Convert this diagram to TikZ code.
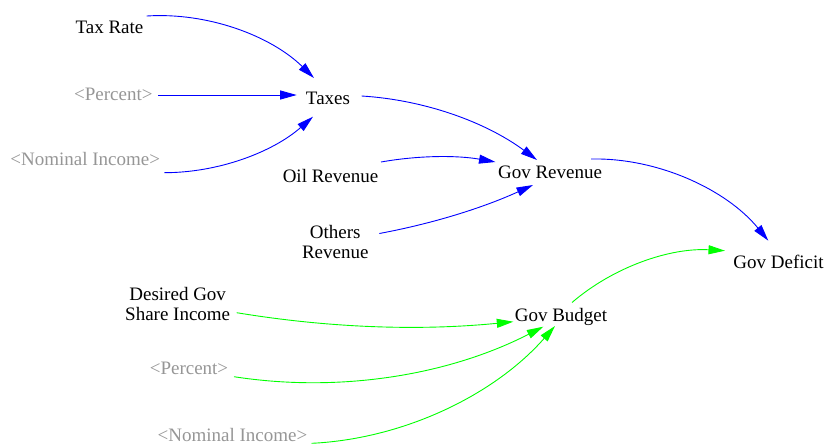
\documentclass[tikz,border=0pt]{standalone}
\usepackage{fontspec}
\setmainfont{Liberation Serif}
\usetikzlibrary{arrows.meta}
\definecolor{linkblue}{RGB}{0,0,255}
\definecolor{linkgreen}{RGB}{0,255,0}
\definecolor{shadowvar}{RGB}{150,150,150}
\begin{document}
\begin{tikzpicture}[x=1pt,y=-1pt,
  var/.style={inner sep=0pt, font=\fontsize{19}{20}\selectfont, align=center},
  shadow/.style={var, text=shadowvar},
  link/.style={line width=0.9pt, looseness=0.87, -{Triangle[length=16.5pt,width=9pt]}},
  bluelink/.style={link, color=linkblue},
  greenlink/.style={link, color=linkgreen}]
\useasboundingbox (0,0) rectangle (827,445);

% variables
\node[var, anchor=base]    (tr)  at (109.5,33.5)  {Tax Rate};
\node[shadow, anchor=base] (p1)  at (113.3,100.8) {<Percent>};
\node[var, anchor=base]    (tx)  at (328,104)     {Taxes};
\node[shadow, anchor=base] (n1)  at (85.2,165.8)  {<Nominal Income>};
\node[var, anchor=base]    (oil) at (330.5,182.5) {Oil Revenue};
\node[var, anchor=base]    (gr)  at (550,178.8)   {Gov Revenue};
\node[var]                 (oth) at (335.3,241.7) {Others\\Revenue};
\node[var, anchor=base]    (gd)  at (778.5,268.8) {Gov Deficit};
\node[var]                 (dg)  at (177.7,304.2) {Desired Gov\\Share Income};
\node[var, anchor=base]    (gb)  at (561,321.5)   {Gov Budget};
\node[shadow, anchor=base] (p2)  at (189,374.8)   {<Percent>};
\node[shadow, anchor=base] (n2)  at (232.5,441.8) {<Nominal Income>};

% revenue side
\draw[bluelink] ([shift={(37.2,-17.5)}]tr.base) to[bend left=24] ([shift={(-14,-26)}]tx.base);
\draw[bluelink] ([shift={(45,-5.8)}]p1.base) -- ([shift={(-31.3,-9)}]tx.base);
\draw[bluelink] ([shift={(79.1,6.9)}]n1.base) to[bend right=20.6] ([shift={(-15,12.7)}]tx.base);
\draw[bluelink] ([shift={(33.7,-8)}]tx.base) to[bend left=16.5] ([shift={(-13,-18.8)}]gr.base);
\draw[bluelink] ([shift={(50.5,-20.5)}]oil.base) to[bend left=10] ([shift={(-54.5,-16.8)}]gr.base);
\draw[bluelink] ([shift={(44,-8.2)}]oth.center) to[bend right=7] ([shift={(-17,6.2)}]gr.base);
\draw[bluelink] ([shift={(41,-19.8)}]gr.base) to[bend left=26] ([shift={(-10.2,-28.1)}]gd.base);

% budget side
\draw[greenlink] ([shift={(11,-19)}]gb.base) to[bend left=22] ([shift={(-53.5,-18.1)}]gd.base);
\draw[greenlink] ([shift={(59,8.5)}]dg.center) to[bend right=7.5] ([shift={(-47.7,0.2)}]gb.base);
\draw[greenlink] ([shift={(45,1.9)}]p2.base) to[bend right=18] ([shift={(-17.7,5.2)}]gb.base);
\draw[greenlink] ([shift={(79.2,1.5)}]n2.base) to[bend right=23] ([shift={(-6,4.5)}]gb.base);
\end{tikzpicture}
\end{document}
